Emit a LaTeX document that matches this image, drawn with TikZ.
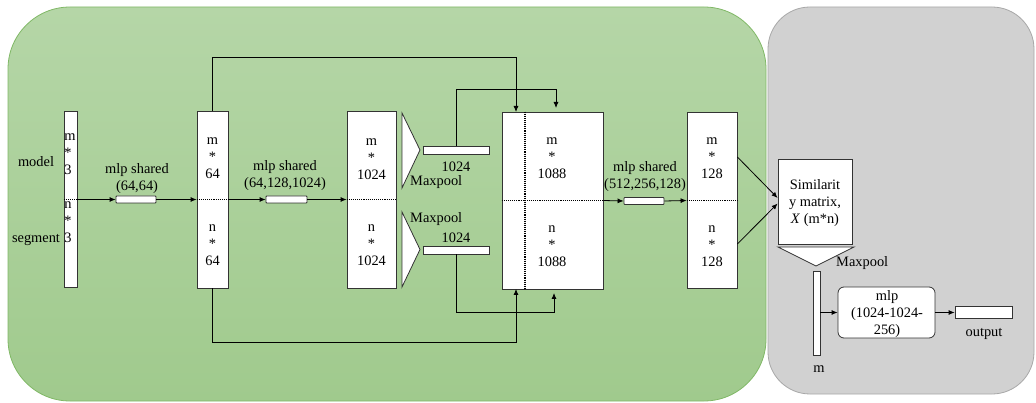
\documentclass[tikz,border=0pt]{standalone}
\usepackage{fontspec}
\setmainfont{Liberation Serif}
\usetikzlibrary{arrows.meta,calc}
\definecolor{gfill1}{HTML}{B5D6A7}
\definecolor{gfill2}{HTML}{A0CA8D}
\definecolor{gline}{HTML}{80B866}
\definecolor{kfill}{HTML}{D1D1D1}
\definecolor{kline}{HTML}{A8A8A8}
\begin{document}
\begin{tikzpicture}[x=1pt,y=-1pt,
  font=\fontsize{14.4}{17}\selectfont,
  blk/.style={draw=black!80, fill=white, line width=0.8pt, inner sep=0pt},
  smallbox/.style={blk, minimum width=40pt, minimum height=7pt, rounded corners=0.8pt},
  poolbar/.style={blk, minimum width=66pt, minimum height=8pt},
  div/.style={densely dotted, line width=1.1pt},
  arr/.style={line width=0.8pt, -{Latex[length=6pt,width=5pt]}},
  conn/.style={line width=0.8pt},
  tri/.style={draw=black!80, fill=white, line width=0.8pt, line join=miter},
  lbl/.style={inner sep=0pt, align=center}
]
\useasboundingbox (0,0) rectangle (1036,403);
% backgrounds
\draw[draw=kline, fill=kfill, line width=0.8pt, rounded corners=42pt] (768,7) rectangle (1034,394);
\draw[draw=gline, line width=0.8pt, top color=gfill1, bottom color=gfill2, rounded corners=62pt] (8,7) rectangle (766,401);

% input bar
\node[blk, minimum width=13pt, minimum height=176pt] (in) at (70.5,199.5) {};
\draw[div] (in.west) -- (in.east);
\node[lbl, anchor=north west, align=left] (inm) at (64.2,134) {m\\*\\3};
\node[lbl, anchor=north west, align=left] (inn) at (64.2,202) {n\\*\\3};
\node[lbl] (model) at (36,162) {model};
\node[lbl] (segment) at (36,240) {segment};

% mlp A
\node[smallbox] (mlpA) at (136,199.5) {};
\node[lbl] (mlpAt) at (137,179) {mlp shared\\(64,64)};

% m*64
\node[blk, minimum width=31pt, minimum height=177pt] (m64) at (212.5,199.5) {};
\draw[div] (m64.west) -- (m64.east);
\node[lbl] (m64u) at (212.5,158) {m\\*\\64};
\node[lbl] (m64l) at (212.5,245) {n\\*\\64};

% mlp B
\node[smallbox, minimum width=41pt] (mlpB) at (286.5,199.5) {};
\node[lbl] (mlpBt) at (285,176) {mlp shared\\(64,128,1024)};

% 1024 box
\node[blk, minimum width=49pt, minimum height=177pt] (c1024) at (371.5,199.5) {};
\draw[div] (c1024.west) -- (c1024.east);
\node[lbl] (c1024u) at (371.5,159) {m\\*\\1024};
\node[lbl] (c1024l) at (371.5,245) {n\\*\\1024};

% maxpool triangles
\draw[tri] (402,113) -- (420,150) -- (402,188) -- cycle;
\draw[tri] (402,212) -- (420,249.5) -- (402,287) -- cycle;
\node[poolbar] (p1) at (456,150) {};
\node[poolbar] (p2) at (456,250) {};
\node[lbl] (p1t) at (456,167) {1024};
\node[lbl, anchor=west] (mp1) at (410,182) {Maxpool};
\node[lbl, anchor=west] (mp2) at (410,219) {Maxpool};
\node[lbl] (p2t) at (456,238) {1024};

% 1088 box
\node[blk, minimum width=101pt, minimum height=177pt] (c1088) at (552.5,200.5) {};
\draw[div] (c1088.west) -- (c1088.east);
\draw[div] (c1088.north -| 525,0) -- (c1088.south -| 525,0);
\node[lbl] (c1088u) at (552,158) {m\\*\\1088};
\node[lbl] (c1088l) at (552,246) {n\\*\\1088};
\coordinate (e1) at (516,112);
\coordinate (e2) at (556,108);
\coordinate (e3) at (516,289);
\coordinate (e4) at (554,293);

% skip connectors
\draw[conn] (m64.north) -- (m64.north |- 0,57) -| (516,100);
\draw[arr] (516,100) -- (e1);
\draw[conn] (p1.north) -- (p1.north |- 0,89) -| (556,100);
\draw[arr] (556,100) -- (e2);
\draw[conn] (m64.south) -- (m64.south |- 0,342) -| (516,300);
\draw[arr] (516,300) -- (e3);
\draw[conn] (p2.south) -- (p2.south |- 0,312) -| (554,304);
\draw[arr] (554,304) -- (e4);

% mlp C
\node[smallbox] (mlpC) at (644,201) {};
\node[lbl] (mlpCt) at (645,177) {mlp shared\\(512,256,128)};

% 128 box
\node[blk, minimum width=50pt, minimum height=176pt] (c128) at (712,200.5) {};
\draw[div] (c128.west) -- (c128.east);
\node[lbl] (c128u) at (712,158) {m\\*\\128};
\node[lbl] (c128l) at (712,246) {n\\*\\128};

% main arrows
\draw[arr] (in.east) -- (mlpA.west);
\draw[arr] (mlpA.east) -- (m64.west);
\draw[arr] (m64.east) -- (mlpB.west);
\draw[arr] (mlpB.east) -- (c1024.west);
\draw[arr] (c1088.east) -- (mlpC.west);
\draw[arr] (mlpC.east) -- (c128.west);

% similarity
\node[blk, minimum width=74pt, minimum height=85pt] (sim) at (815,201.5) {};
\node[lbl] (simt) at (815,203) {Similarit\\y matrix,\\\textit{X} (m*n)};
\draw[arr] (c128.east |- 0,157) -- (sim.west |- 0,198);
\draw[arr] (c128.east |- 0,244) -- (sim.west |- 0,203.5);
\draw[tri] (778,247) -- (854,247) -- (816,266) -- cycle;
\node[lbl, anchor=west] (mp3) at (836,263) {Maxpool};

% m bar, mlp, output
\node[blk, minimum width=7pt, minimum height=84pt] (mbar) at (816.5,313) {};
\node[lbl] (mlab) at (819,369) {m};
\node[blk, rounded corners=6pt, minimum width=97pt, minimum height=51pt] (mlp) at (886.5,312.5) {};
\node[lbl] (mlpt) at (887,314) {mlp\\(1024-1024-\\256)};
\node[blk, minimum width=57pt, minimum height=12pt] (outb) at (983.5,312) {};
\node[lbl] (outt) at (984,334) {output};
\draw[arr] (mbar.east |- mlp.west) -- (mlp.west);
\draw[arr] (mlp.east) -- (outb.west |- mlp.east);
\end{tikzpicture}
\end{document}
